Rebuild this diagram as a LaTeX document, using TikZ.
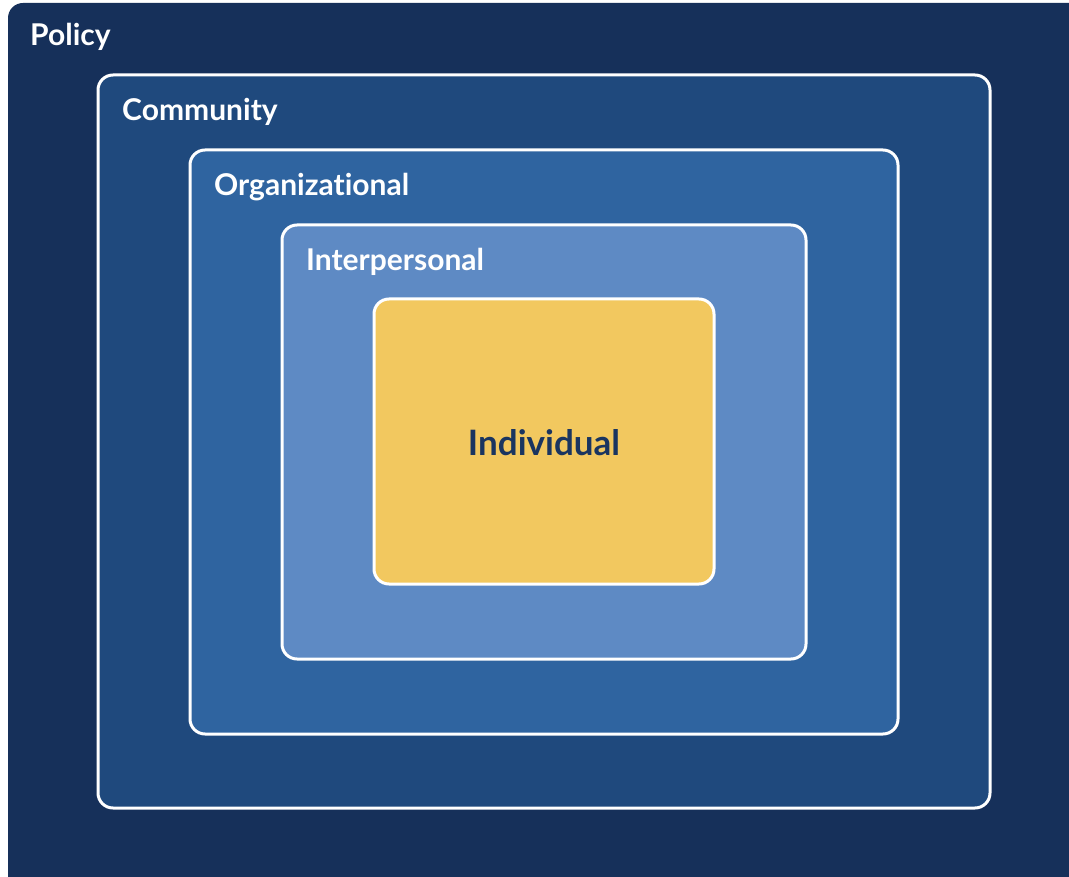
\documentclass[tikz,border=0pt]{standalone}
\usepackage{fontspec}
\setmainfont[Ligatures={NoCommon}]{Lato}
\definecolor{cpol}{HTML}{16305A}
\definecolor{ccom}{HTML}{1F497D}
\definecolor{corg}{HTML}{2F64A0}
\definecolor{cint}{HTML}{5E8AC4}
\definecolor{cind}{HTML}{F2C85F}
\definecolor{ctxt}{HTML}{1A3560}
\begin{document}
\begin{tikzpicture}[x=1pt,y=-1pt,
  layer/.style={rounded corners=15pt, draw=white, line width=3pt},
  lbl/.style={anchor=west, text=white, font=\bfseries\fontsize{30}{34}\selectfont, inner sep=0pt}]
\useasboundingbox (0,0) rectangle (1069,877);
\fill[white] (0,0) rectangle (1069,877);
\fill[cpol, rounded corners=15pt] (8,3) rectangle (1085,892);
\path[layer, fill=ccom] (98,75) rectangle (990,808);
\path[layer, fill=corg] (190,150) rectangle (898,734);
\path[layer, fill=cint] (282,225) rectangle (806,659);
\path[layer, fill=cind] (374,299) rectangle (714,584);
\node[lbl] (policy) at (30,37) {Policy};
\node[lbl] (community) at (122,112) {Community};
\node[lbl] (org) at (214,187) {Organizat\kern0pt ional};
\node[lbl] (inter) at (306,262) {Interpersonal};
\node[text=ctxt, font=\bfseries\fontsize{35}{40}\selectfont, inner sep=0pt] (ind) at (544,443) {Individual};
\end{tikzpicture}
\end{document}
